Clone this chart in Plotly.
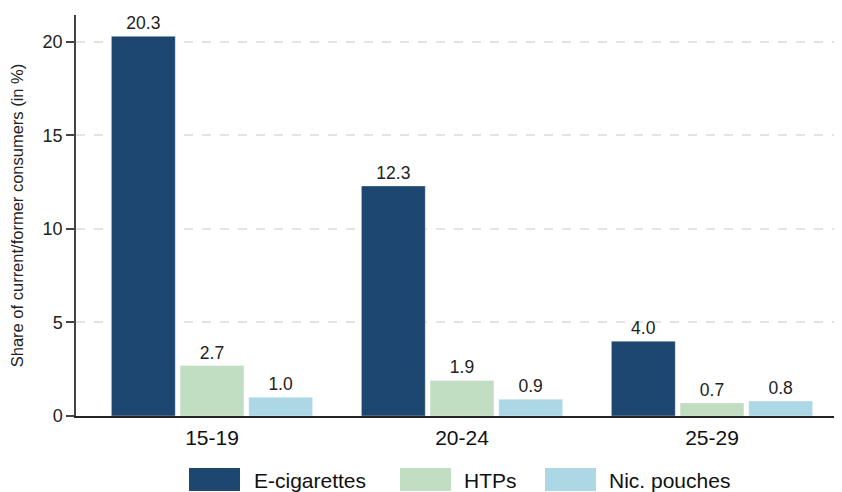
import plotly.graph_objects as go

categories = ["15-19", "20-24", "25-29"]
ecig = [20.3, 12.3, 4.0]
htps = [2.7, 1.9, 0.7]
nic = [1.0, 0.9, 0.8]
series_names = ["E-cigarettes", "HTPs", "Nic. pouches"]
colors = ["#1d4770", "#c1dec2", "#acd8e6"]
yticks = [0, 5, 10, 15, 20]

xpos = list(range(len(categories)))
fig = go.Figure()
for name, vals, col in zip(series_names, [ecig, htps, nic], colors):
    fig.add_trace(go.Bar(
        x=xpos, y=vals, name=name,
        marker=dict(color=col, line=dict(color="rgba(255,255,255,0.35)", width=1)),
        text=[f"{v:.1f}" for v in vals], textposition="outside", constraintext="none",
        textfont=dict(size=17.5, color="#222222"), cliponaxis=False,
        showlegend=False,
    ))

# page body has an 8px margin; work in screen pixels and shift
OFF = 8
W, H = 842 - OFF, 492 - OFF
L, R, T, B = 76 - OFF, 0, 15 - OFF, 76
pw, ph = W - L - R, H - T - B

def px(x):
    return (x - OFF - L) / pw

def py(y):
    return (H - B - (y - OFF)) / ph

shapes = []
annotations = []
leg_items = [(189, 240, 252), (400, 451, 462), (545, 596, 607)]
for (x0, x1, tx), name, col in zip(leg_items, series_names, colors):
    shapes.append(dict(type="rect", xref="paper", yref="paper",
                       x0=px(x0), x1=px(x1), y0=py(491), y1=py(468),
                       fillcolor=col, line=dict(width=0)))
    annotations.append(dict(xref="paper", yref="paper", x=px(tx), y=py(480),
                            text=name, showarrow=False, xanchor="left", yanchor="middle",
                            font=dict(size=21, color="#111111")))

fig.update_layout(
    width=W, height=H,
    margin=dict(l=L, r=R, t=T, b=B, pad=0),
    plot_bgcolor="white", paper_bgcolor="white",
    font=dict(family="Liberation Sans, Arial, sans-serif", color="#222222"),
    barmode="group", bargap=0.176, bargroupgap=0.07,
    shapes=shapes, annotations=annotations,
    xaxis=dict(
        range=[-0.544, 2.52], tickmode="array", tickvals=xpos, ticktext=categories,
        showgrid=False, zeroline=False, showline=True, linecolor="#222222", linewidth=1.5,
        ticks="", tickfont=dict(size=21, color="#111111"), ticklabelstandoff=2,
    ),
    yaxis=dict(
        range=[0, 21.44], tickmode="array", tickvals=yticks,
        showgrid=True, gridcolor="#e4e4e4", griddash="dash", gridwidth=1.5,
        zeroline=False, showline=True, linecolor="#444444", linewidth=1.5,
        ticks="outside", ticklen=8, tickcolor="#444444", tickwidth=1.5,
        tickfont=dict(size=18, color="#222222"),
        title=dict(text="Share of current/former consumers (in %)", font=dict(size=16.5, color="#222222"), standoff=18),
    ),
)

fig.write_html("out.html")
